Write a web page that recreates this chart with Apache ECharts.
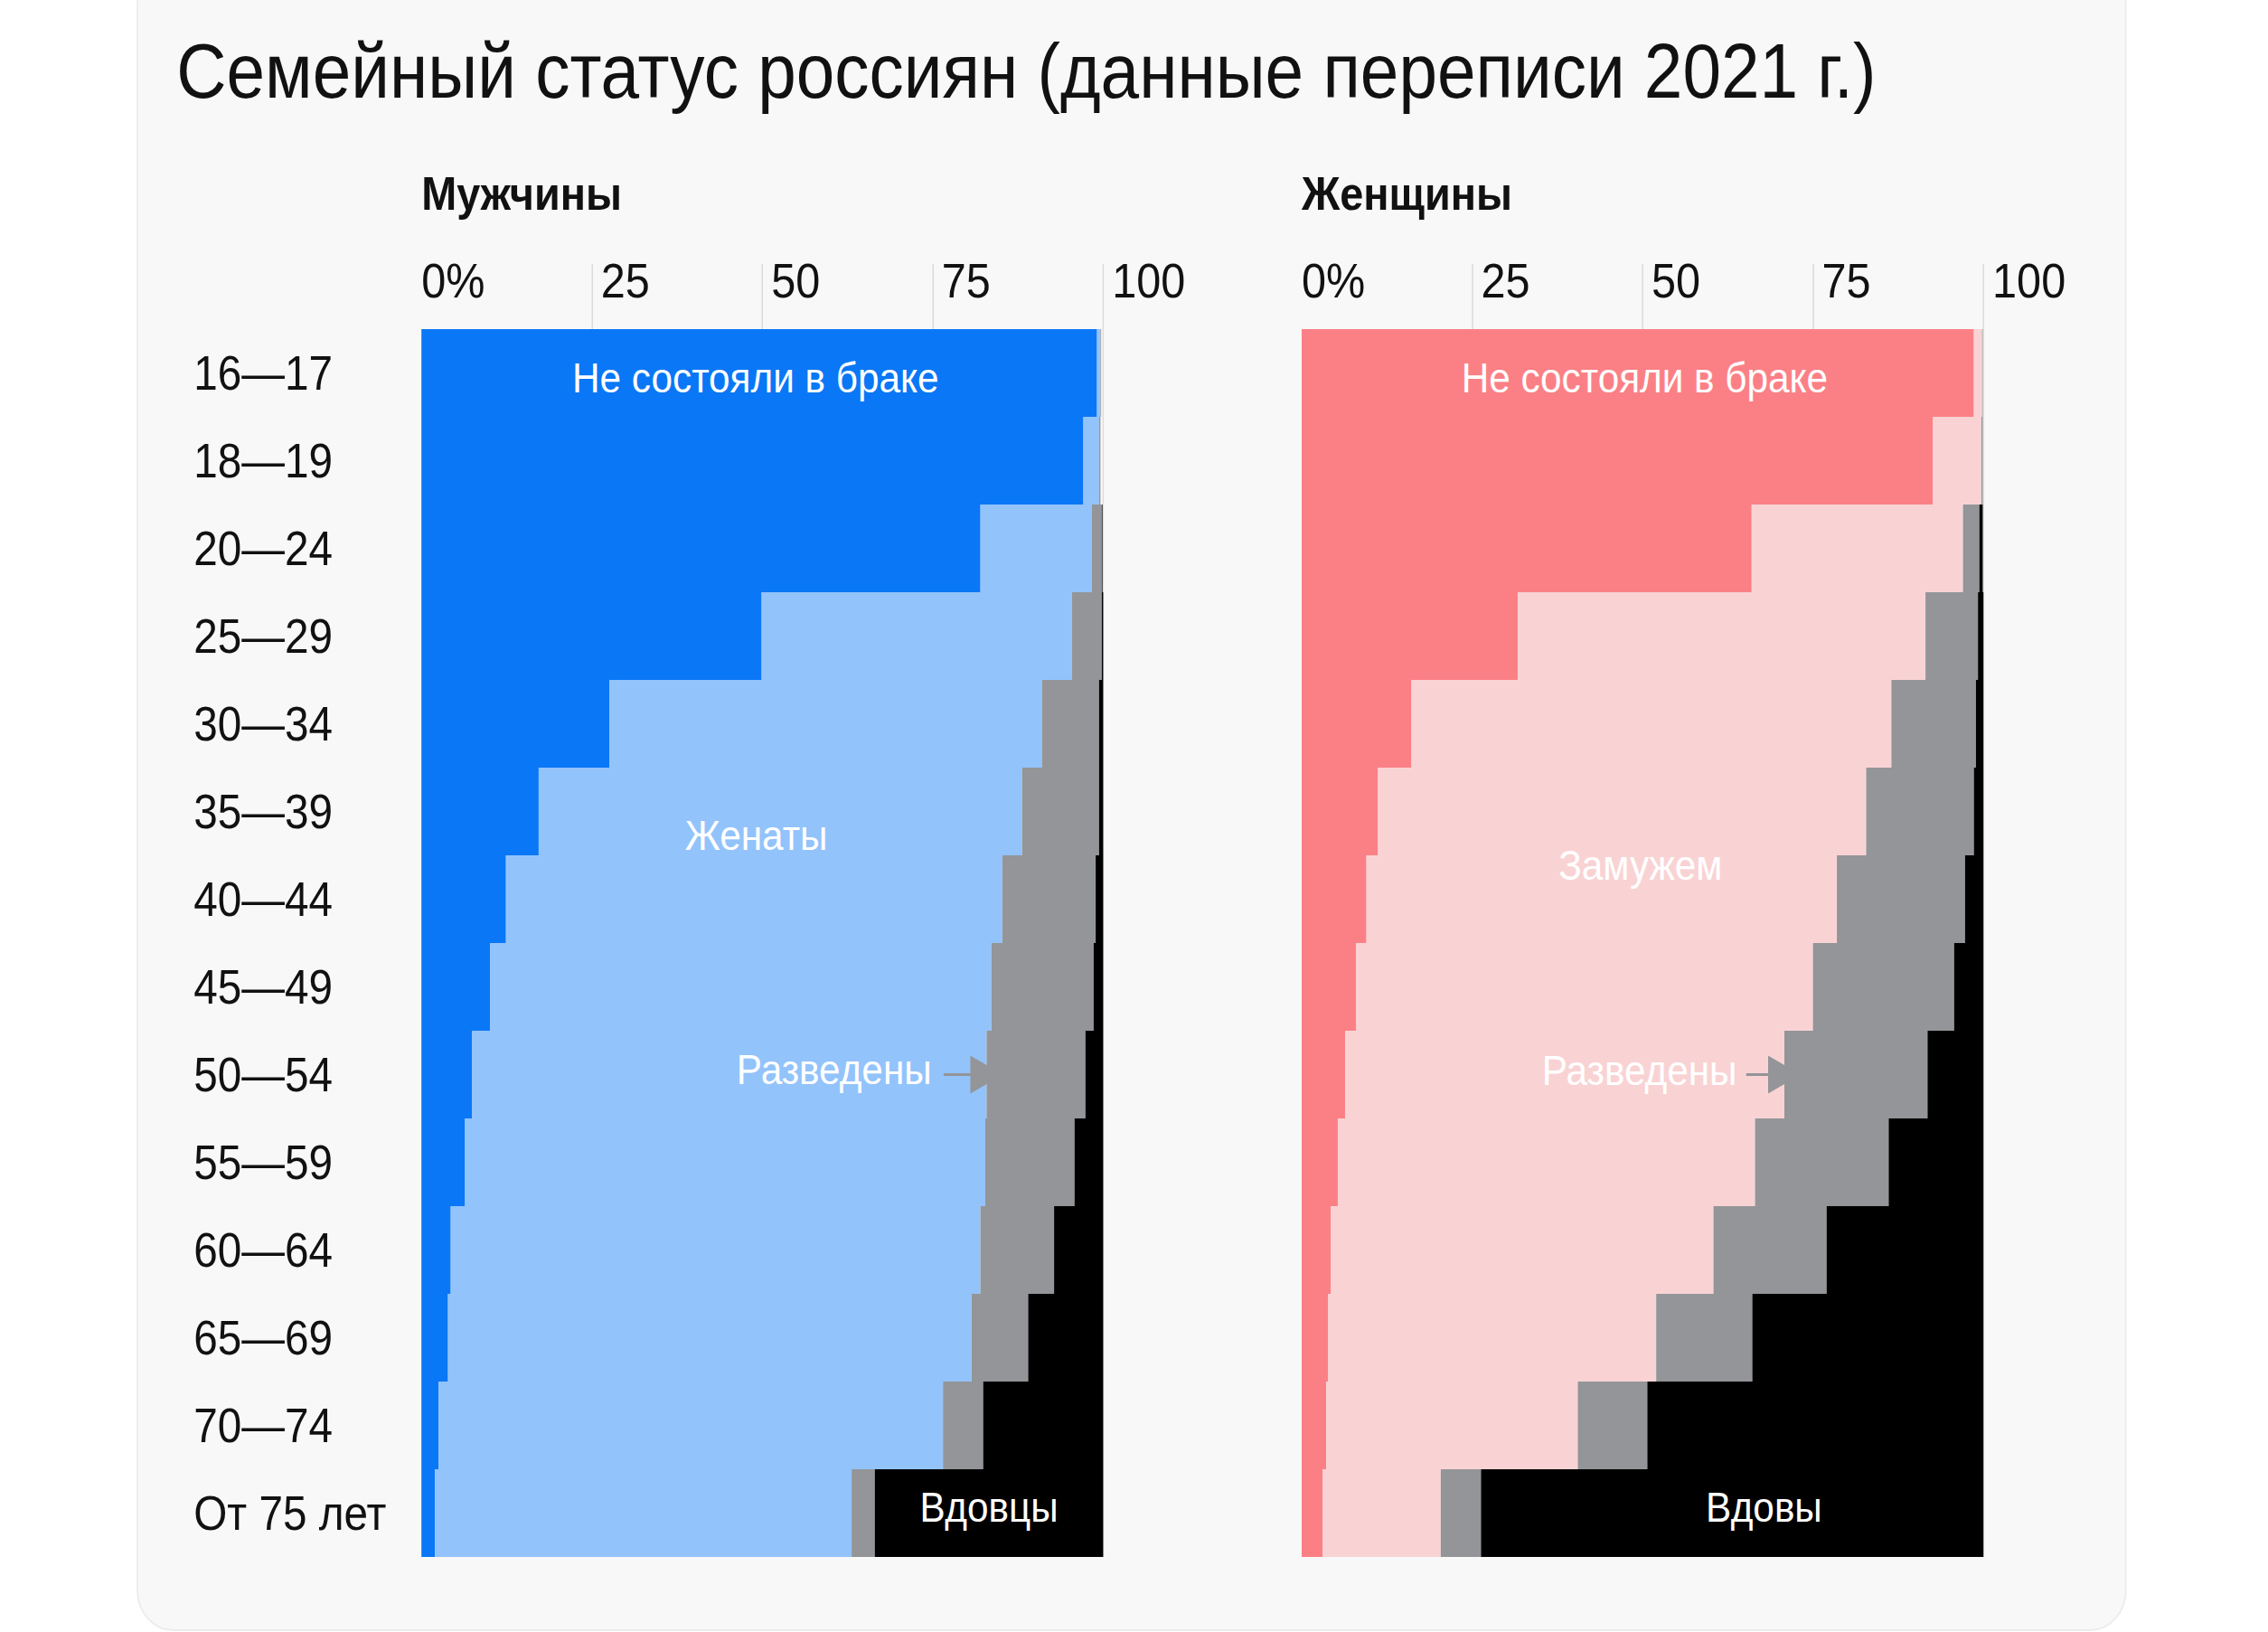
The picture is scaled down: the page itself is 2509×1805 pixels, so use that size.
<!DOCTYPE html>
<html>
<head>
<meta charset="utf-8">
<script src="https://cdn.jsdelivr.net/npm/echarts@6/dist/echarts.min.js"></script>
<style>
  html, body { margin: 0; padding: 0; background: #ffffff; overflow: hidden; }
  #chart { width: 2788px; height: 1805px; transform: scaleX(0.9); transform-origin: 0 0; }
</style>
</head>
<body>
<div id="chart"></div>
<script>
// ---------- DATA ----------
const ages = ['16—17','18—19','20—24','25—29','30—34','35—39','40—44','45—49','50—54','55—59','60—64','65—69','70—74','От 75 лет'];

const menNever    = [99.1, 97.1, 82.0, 49.9, 27.6, 17.2, 12.4, 10.1,  7.4,  6.4,  4.3,  3.9,  2.5,  2.0];
const menMarried  = [ 0.5,  2.3, 16.3, 45.5, 63.4, 70.9, 72.8, 73.5, 75.5, 76.3, 77.7, 76.8, 74.0, 61.1];
const menDivorced = [ 0.1,  0.2,  1.5,  4.4,  8.4, 11.3, 13.7, 15.0, 14.5, 13.1, 10.8,  8.3,  5.9,  3.4];
const menWidowed  = [ 0.0,  0.0,  0.1,  0.2,  0.6,  0.6,  1.1,  1.4,  2.6,  4.2,  7.2, 11.0, 17.6, 33.5];

const womenNever    = [98.6, 92.6, 66.0, 31.7, 16.1, 11.2,  9.5,  8.0,  6.4,  5.3,  4.3,  3.9,  3.6,  3.1];
const womenMarried  = [ 1.2,  7.1, 31.0, 59.8, 70.4, 71.6, 69.0, 67.0, 64.4, 61.2, 56.1, 48.1, 36.9, 17.3];
const womenDivorced = [ 0.1,  0.2,  2.4,  7.7, 12.4, 15.8, 18.8, 20.7, 21.0, 19.6, 16.6, 14.1, 10.2,  5.9];
const womenWidowed  = [ 0.0,  0.0,  0.5,  0.8,  1.1,  1.4,  2.7,  4.3,  8.2, 13.9, 23.0, 33.9, 49.3, 73.7];

const xTicks      = [0, 25, 50, 75, 100];
const xTickLabels = ['0%', '25', '50', '75', '100'];

const menNames   = ['Не состояли в браке', 'Женаты', 'Разведены', 'Вдовцы'];
const womenNames = ['Не состояли в браке', 'Замужем', 'Разведены', 'Вдовы'];

// ---------- STYLE ----------
const FONT = '"Liberation Sans", Arial, Helvetica, sans-serif';
const GRAY = '#939598';
const menColors   = ['#0a77f6', '#93c3fb', GRAY, '#000000'];
const womenColors = ['#fb8086', '#f9d3d4', GRAY, '#000000'];

const GRID_TOP = 364, GRID_H = 1358;

const chart = echarts.init(document.getElementById('chart'), null, { renderer: 'svg' });

function xAxisFor(gi) {
  return {
    gridIndex: gi, type: 'value', min: 0, max: 100, interval: 25, position: 'top',
    axisLine: { show: false },
    axisTick: { show: true, inside: false, length: 72, customValues: xTicks.slice(1),
                lineStyle: { color: '#d9d9d9', width: 1.6 } },
    splitLine: { show: true, lineStyle: { color: '#dcdcdc', width: 1.6 } },
    axisLabel: {
      margin: 54, verticalAlign: 'middle', align: 'left',
      formatter: function (v) {
        const i = xTicks.indexOf(v);
        const t = i >= 0 ? xTickLabels[i] : '';
        return v === 0 ? '{z|' + t + '}' : '{n|' + t + '}';
      },
      rich: {
        z: { fontSize: 54, color: '#111', fontFamily: FONT },
        n: { fontSize: 54, color: '#111', fontFamily: FONT, padding: [0, 0, 0, 11] }
      }
    }
  };
}

function yAxisFor(gi, showLabels) {
  return {
    gridIndex: gi, type: 'category', data: ages, inverse: true,
    axisLine: { show: false }, axisTick: { show: false }, splitLine: { show: false },
    axisLabel: { show: showLabels, align: 'left', margin: 280, fontSize: 53, color: '#111', fontFamily: FONT }
  };
}

function label(text, x, row, dy, pos) {
  return {
    coord: [x, row],
    label: { formatter: text, offset: [0, dy], position: pos || 'inside', distance: 0 }
  };
}

function stack(gi, names, datas, colors, stackId, marks, arrow) {
  return names.map(function (n, k) {
    const s = {
      name: n, type: 'bar', stack: stackId,
      xAxisIndex: gi, yAxisIndex: gi,
      barCategoryGap: '0%', barWidth: '100%',
      data: datas[k],
      itemStyle: { color: colors[k] },
      emphasis: { disabled: true },
      silent: true
    };
    if (k === 0) {
      s.markPoint = {
        silent: true, animation: false,
        symbol: 'circle', symbolSize: 1,
        itemStyle: { color: 'rgba(0,0,0,0)' },
        label: { show: true, color: '#ffffff', fontSize: 47, fontFamily: FONT },
        data: marks
      };
      s.markLine = {
        silent: true, animation: false,
        symbol: ['none', 'triangle'], symbolSize: [42, 40],
        lineStyle: { color: GRAY, width: 3, type: 'solid' },
        label: { show: false },
        emphasis: { disabled: true },
        data: [[{ coord: [arrow[0], arrow[2]] }, { coord: [arrow[1], arrow[2]] }]]
      };
    }
    return s;
  });
}

// positions derived from the data
const ROW_DIV = '50—54';
const iDiv = ages.indexOf(ROW_DIV);
const menArrowEnd = menNever[iDiv] + menMarried[iDiv];
const womenArrowEnd = womenNever[iDiv] + womenMarried[iDiv];
const last = ages.length - 1;
const menWidStart = menNever[last] + menMarried[last] + menDivorced[last];
const menWidCenter = menWidStart + menWidowed[last] / 2;

const menMarks = [
  label(menNames[0], 49, ages[0], 5),
  label(menNames[1], 49.1, '35—39', 26),
  label(menNames[2], menArrowEnd - 6.3 - 1.7, ROW_DIV, -6, 'left'),
  label(menNames[3], menWidCenter, ages[last], -7)
];
const womenMarks = [
  label(womenNames[0], 50.3, ages[0], 5),
  label(womenNames[1], 49.7, '40—44', -38),
  label(womenNames[2], womenArrowEnd - 5.6 - 1.3, ROW_DIV, -5, 'left'),
  label(womenNames[3], 67.8, ages[last], -7)
];

const option = {
  animation: false,
  backgroundColor: 'transparent',
  textStyle: { fontFamily: FONT },
  graphic: [
    { type: 'rect', z: -100, silent: true,
      shape: { x: 169, y: -40, width: 2444, height: 1843, r: 44 },
      style: { fill: '#f8f8f8', stroke: '#ececec', lineWidth: 2 } },
    { type: 'text', x: 217, y: 79, silent: true,
      style: { text: 'Семейный статус россиян (данные переписи 2021 г.)',
               fontSize: 85, fontFamily: FONT, fill: '#111', verticalAlign: 'middle', align: 'left' } },
    { type: 'text', x: 518, y: 214, silent: true,
      style: { text: 'Мужчины', fontSize: 52, fontWeight: 'bold', fontFamily: FONT, fill: '#111',
               verticalAlign: 'middle', align: 'left' } },
    { type: 'text', x: 1600, y: 214, silent: true,
      style: { text: 'Женщины', fontSize: 52, fontWeight: 'bold', fontFamily: FONT, fill: '#111',
               verticalAlign: 'middle', align: 'left' } }
  ],
  grid: [
    { left: 518, top: GRID_TOP, width: 838, height: GRID_H, containLabel: false },
    { left: 1600, top: GRID_TOP, width: 838, height: GRID_H, containLabel: false }
  ],
  xAxis: [xAxisFor(0), xAxisFor(1)],
  yAxis: [yAxisFor(0, true), yAxisFor(1, false)],
  series: [].concat(
    stack(0, menNames, [menNever, menMarried, menDivorced, menWidowed], menColors, 'men', menMarks,
          [menArrowEnd - 6.3, menArrowEnd, ROW_DIV]),
    stack(1, womenNames, [womenNever, womenMarried, womenDivorced, womenWidowed], womenColors, 'women', womenMarks,
          [womenArrowEnd - 5.6, womenArrowEnd, ROW_DIV])
  )
};

chart.setOption(option);
</script>
</body>
</html>
